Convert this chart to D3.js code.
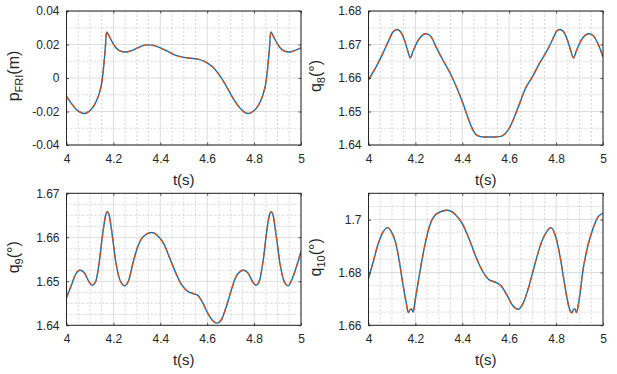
<!DOCTYPE html>
<html><head><meta charset="utf-8">
<script src="https://cdn.jsdelivr.net/npm/d3@7"></script>
<style>
body{margin:0;background:#fff}
svg{display:block}
text{font-family:"Liberation Sans",Arial,Helvetica,sans-serif;fill:#262626}
</style>
</head><body>
<svg id="chart" width="617" height="374"></svg>
<script>
// ---------- data ----------
const xTicks = [4, 4.2, 4.4, 4.6, 4.8, 5];

const tP = [4.000,4.020,4.040,4.060,4.078,4.095,4.110,4.125,4.140,4.150,4.158,4.165,4.171,4.180,4.195,4.210,4.230,4.250,4.275,4.300,4.330,4.350,4.375,4.400,4.430,4.460,4.500,4.530,4.560,4.590,4.620,4.650,4.680,4.710,4.740,4.760,4.775,4.795,4.810,4.825,4.840,4.850,4.858,4.865,4.871,4.880,4.895,4.910,4.930,4.950,4.975,5.000];
const pFRI = [-0.0110,-0.0150,-0.0185,-0.0205,-0.0212,-0.0200,-0.0180,-0.0145,-0.0090,-0.0030,0.0060,0.0170,0.0275,0.0255,0.0215,0.0182,0.0160,0.0155,0.0162,0.0178,0.0195,0.0198,0.0193,0.0180,0.0160,0.0138,0.0123,0.0118,0.0113,0.0098,0.0070,0.0022,-0.0045,-0.0120,-0.0180,-0.0205,-0.0212,-0.0200,-0.0180,-0.0145,-0.0090,-0.0030,0.0060,0.0170,0.0275,0.0255,0.0215,0.0182,0.0160,0.0155,0.0165,0.0180];
const pFRITicks = [-0.04, -0.02, 0, 0.02, 0.04];

const tQ8 = [4.000,4.030,4.060,4.085,4.105,4.121,4.140,4.155,4.168,4.178,4.190,4.210,4.230,4.246,4.265,4.290,4.320,4.350,4.380,4.405,4.425,4.445,4.465,4.490,4.530,4.560,4.580,4.600,4.620,4.645,4.670,4.700,4.730,4.760,4.785,4.803,4.817,4.835,4.850,4.863,4.874,4.886,4.905,4.925,4.942,4.960,4.980,5.000];
const q8 = [1.6595,1.6630,1.6672,1.6710,1.6738,1.6745,1.6735,1.6710,1.6680,1.6660,1.6680,1.6710,1.6728,1.6732,1.6725,1.6690,1.6650,1.6612,1.6565,1.6520,1.6480,1.6445,1.6428,1.6424,1.6424,1.6425,1.6432,1.6450,1.6480,1.6525,1.6570,1.6605,1.6645,1.6680,1.6715,1.6740,1.6745,1.6735,1.6710,1.6680,1.6660,1.6680,1.6710,1.6728,1.6732,1.6725,1.6700,1.6663];
const q8Ticks = [1.64, 1.65, 1.66, 1.67, 1.68];

const tQ9 = [4.000,4.020,4.040,4.057,4.075,4.095,4.110,4.125,4.140,4.155,4.167,4.174,4.182,4.195,4.210,4.230,4.248,4.265,4.285,4.305,4.330,4.363,4.390,4.415,4.440,4.465,4.490,4.515,4.540,4.560,4.580,4.605,4.625,4.642,4.660,4.680,4.700,4.720,4.740,4.755,4.775,4.795,4.808,4.822,4.838,4.853,4.865,4.873,4.881,4.894,4.909,4.928,4.945,4.962,4.980,5.000];
const q9 = [1.6463,1.6490,1.6517,1.6525,1.6520,1.6500,1.6491,1.6500,1.6545,1.6610,1.6650,1.6658,1.6650,1.6605,1.6545,1.6500,1.6490,1.6502,1.6545,1.6580,1.6603,1.6611,1.6603,1.6585,1.6553,1.6520,1.6493,1.6478,1.6472,1.6468,1.6452,1.6425,1.6410,1.6405,1.6412,1.6440,1.6475,1.6507,1.6522,1.6525,1.6518,1.6498,1.6491,1.6500,1.6545,1.6610,1.6650,1.6658,1.6650,1.6605,1.6545,1.6500,1.6490,1.6505,1.6532,1.6568];
const q9Ticks = [1.64, 1.65, 1.66, 1.67];

const tQ10 = [4.000,4.020,4.040,4.060,4.082,4.100,4.115,4.130,4.145,4.160,4.170,4.177,4.183,4.190,4.200,4.215,4.235,4.260,4.290,4.334,4.370,4.400,4.430,4.460,4.490,4.515,4.545,4.565,4.590,4.615,4.639,4.660,4.680,4.700,4.720,4.740,4.760,4.778,4.795,4.815,4.830,4.845,4.860,4.867,4.874,4.880,4.887,4.897,4.915,4.935,4.955,4.975,5.000];
const q10 = [1.6778,1.6840,1.6905,1.6950,1.6970,1.6950,1.6915,1.6850,1.6765,1.6690,1.6648,1.6660,1.6662,1.6650,1.6700,1.6780,1.6880,1.6975,1.7022,1.7036,1.7020,1.6985,1.6925,1.6855,1.6800,1.6772,1.6762,1.6750,1.6715,1.6675,1.6661,1.6685,1.6735,1.6800,1.6865,1.6920,1.6955,1.6970,1.6945,1.6870,1.6790,1.6710,1.6655,1.6647,1.6660,1.6662,1.6648,1.6690,1.6810,1.6900,1.6960,1.7005,1.7025];
const q10Ticks = [1.66, 1.68, 1.70];

// ---------- layout ----------
const svg = d3.select("#chart");
const BLUE = "#0072BD", ORANGE = "#D95319", AXC = "#262626";
const fmt = d => String(+(+d).toFixed(4));

const panels = [
  {t:tP,  v:pFRI, dom:[-0.04,0.04], ticks:pFRITicks, minor:0.01,   lab:["p","FRI","(m)"], L:66.5, T:11,    R:301,   B:145},
  {t:tQ8, v:q8,   dom:[1.64,1.68],  ticks:q8Ticks,   minor:0.005,  lab:["q","8","(°)"],   L:368.5, T:11,   R:603,   B:145},
  {t:tQ9, v:q9,   dom:[1.64,1.67],  ticks:q9Ticks,   minor:0.0025, lab:["q","9","(°)"],   L:66.5, T:193.3, R:301,   B:325.3},
  {t:tQ10,v:q10,  dom:[1.66,1.71],  ticks:q10Ticks,  minor:0.005,  lab:["q","10","(°)"],  L:368.5, T:193.3, R:603,  B:325.3}
];

panels.forEach((p, i) => {
  const x = d3.scaleLinear().domain([4,5]).range([p.L, p.R]);
  const y = d3.scaleLinear().domain(p.dom).range([p.B, p.T]);
  const g = svg.append("g");

  // minor grid (dotted)
  const xMinor = d3.range(4, 5.0001, 0.05).filter(v => !xTicks.some(t => Math.abs(t - v) < 1e-6));
  const yMinor = d3.range(p.dom[0], p.dom[1] + 1e-9, p.minor).filter(v => !p.ticks.some(t => Math.abs(t - v) < 1e-7));
  g.selectAll(".mx").data(xMinor).enter().append("line")
    .attr("x1", d => x(d)).attr("x2", d => x(d)).attr("y1", p.T).attr("y2", p.B)
    .attr("stroke", "#d4d4d4").attr("stroke-width", 1).attr("stroke-dasharray", "2,2");
  g.selectAll(".my").data(yMinor).enter().append("line")
    .attr("y1", d => y(d)).attr("y2", d => y(d)).attr("x1", p.L).attr("x2", p.R)
    .attr("stroke", "#d4d4d4").attr("stroke-width", 1).attr("stroke-dasharray", "2,2");
  // major grid
  g.selectAll(".gx").data(xTicks).enter().append("line")
    .attr("x1", d => x(d)).attr("x2", d => x(d)).attr("y1", p.T).attr("y2", p.B)
    .attr("stroke", "#dcdcdc").attr("stroke-width", 1);
  g.selectAll(".gy").data(p.ticks).enter().append("line")
    .attr("y1", d => y(d)).attr("y2", d => y(d)).attr("x1", p.L).attr("x2", p.R)
    .attr("stroke", "#dcdcdc").attr("stroke-width", 1);

  // lines
  const clipId = "clip" + i;
  svg.append("clipPath").attr("id", clipId).append("rect")
    .attr("x", p.L).attr("y", p.T).attr("width", p.R - p.L).attr("height", p.B - p.T);
  const pts = p.t.map((tt, k) => [tt, p.v[k]]);
  const line = d3.line().x(d => x(d[0])).y(d => y(d[1])).curve(d3.curveMonotoneX);
  g.append("path").attr("d", line(pts)).attr("fill", "none")
    .attr("stroke", BLUE).attr("stroke-width", 1.4).attr("clip-path", `url(#${clipId})`);
  g.append("path").attr("d", line(pts)).attr("fill", "none")
    .attr("stroke", ORANGE).attr("stroke-width", 1.4).attr("stroke-dasharray", "5,4")
    .attr("clip-path", `url(#${clipId})`);

  // axes
  const styleAx = sel => {
    sel.select(".domain").remove();
    sel.selectAll(".tick line").attr("stroke", AXC).attr("stroke-width", 0.8);
    sel.selectAll(".tick text").attr("fill", AXC).style("font-size", "12px")
      .style("font-family", '"Liberation Sans",Arial,sans-serif');
  };
  g.append("g").attr("transform", `translate(0,${p.B})`)
    .call(d3.axisBottom(x).tickValues(xTicks).tickFormat(fmt).tickSizeInner(-2.5).tickSizeOuter(0).tickPadding(9))
    .call(styleAx);
  g.append("g").attr("transform", `translate(0,${p.T})`)
    .call(d3.axisTop(x).tickValues(xTicks).tickFormat("").tickSizeInner(-2.5).tickSizeOuter(0))
    .call(styleAx);
  g.append("g").attr("transform", `translate(${p.L},0)`)
    .call(d3.axisLeft(y).tickValues(p.ticks).tickFormat(fmt).tickSizeInner(-2.5).tickSizeOuter(0).tickPadding(7))
    .call(styleAx);
  g.append("g").attr("transform", `translate(${p.R},0)`)
    .call(d3.axisRight(y).tickValues(p.ticks).tickFormat("").tickSizeInner(-2.5).tickSizeOuter(0))
    .call(styleAx);

  // box
  g.append("rect").attr("x", p.L).attr("y", p.T).attr("width", p.R - p.L).attr("height", p.B - p.T)
    .attr("fill", "none").attr("stroke", AXC).attr("stroke-width", 1);

  // x label
  g.append("text").attr("x", (p.L + p.R) / 2).attr("y", p.B + 40)
    .attr("text-anchor", "middle").style("font-size", "15px").text("t(s)");

  // y label
  const yl = g.append("text")
    .attr("transform", `translate(${p.L - 48},${(p.T + p.B) / 2 - 2}) rotate(-90)`)
    .attr("text-anchor", "middle").style("font-size", "16px");
  yl.append("tspan").text(p.lab[0]);
  yl.append("tspan").attr("dy", 4).style("font-size", "11px").text(p.lab[1]);
  yl.append("tspan").attr("dy", -4).text(p.lab[2]);
});
</script>
</body></html>
